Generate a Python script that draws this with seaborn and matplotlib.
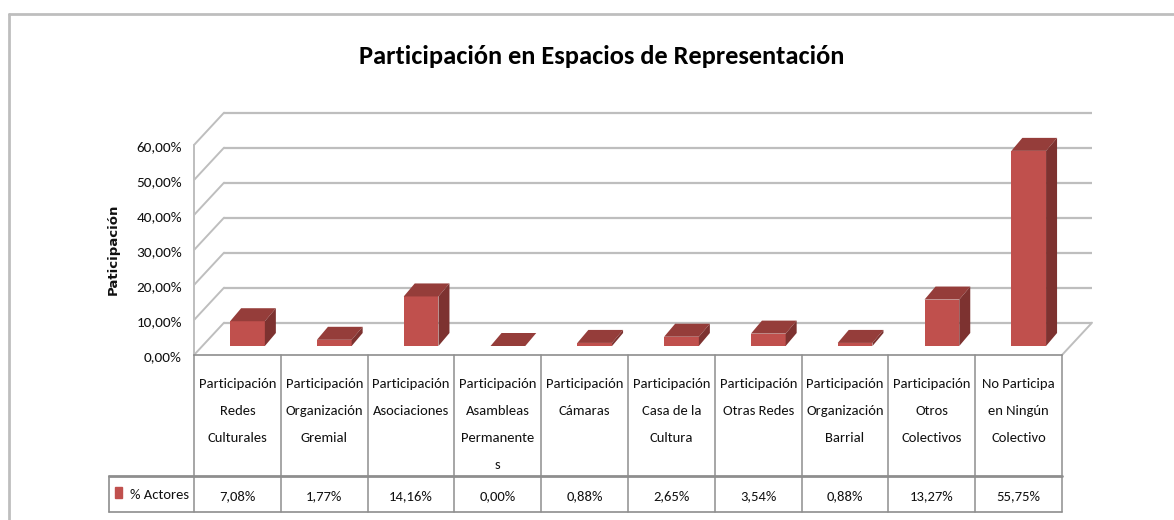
import pandas as pd
import seaborn as sns
import matplotlib.pyplot as plt
from matplotlib.patches import Polygon, Rectangle

# Datos del gráfico
titulo = 'Participación en Espacios de Representación'
titulo_eje_y = 'Paticipación'
serie = '% Actores'
categorias = ['Participación\nRedes\nCulturales',
              'Participación\nOrganización\nGremial',
              'Participación\nAsociaciones',
              'Participación\nAsambleas\nPermanente\ns',
              'Participación\nCámaras',
              'Participación\nCasa de la\nCultura',
              'Participación\nOtras Redes',
              'Participación\nOrganización\nBarrial',
              'Participación\nOtros\nColectivos',
              'No Participa\nen Ningún\nColectivo']
valores = [7.08, 1.77, 14.16, 0.00, 0.88, 2.65, 3.54, 0.88, 13.27, 55.75]
ticks_y = [0, 10, 20, 30, 40, 50, 60]

df = pd.DataFrame({'espacio': categorias, 'actores': valores})

# Colores (estilo Excel)
ROJO = '#C0504D'
ROJO_TOP = '#953D3A'
ROJO_LADO = '#7D3230'
GRIS = '#BEBEBE'
GRIS_TABLA = '#8E8E8E'
TEXTO = '#111111'

sns.set_theme(style='white')
plt.rcParams['font.family'] = ['Carlito', 'DejaVu Sans']


# conversion pixels de l'image -> coordonnées des données
def px(xp):
    return (xp - 247.5) / 86.8


def py(yp):
    return (346 - yp) / 3.5


fig = plt.figure(figsize=(11.74, 5.2), dpi=100)
ax = fig.add_axes([0, 0, 1, 1])

sns.barplot(data=df, x='espacio', y='actores', color=ROJO, width=0.4,
            saturation=1, ax=ax, zorder=4, linewidth=0)

ax.set_xlim(px(0), px(1174))
ax.set_ylim(py(520), py(0))
ax.axis('off')

# profondeur 3D
x_gauche = px(194)
x_droite = px(1062)
prof_x = px(224) - px(194)
prof_y = py(322.7) - py(355)
front_y = py(355)
dx_barre = 11 / 86.8
dy_barre = 13 / 3.5

# mur du fond + mur gauche
for t in ticks_y:
    yb = front_y + prof_y + t * 1.0
    yf = front_y + t * 1.0
    ax.plot([x_gauche + prof_x, x_droite + prof_x], [yb, yb], color=GRIS, lw=1.6, zorder=1,
            solid_capstyle='butt')
    ax.plot([x_gauche, x_gauche + prof_x], [yf, yb], color=GRIS, lw=1.4, zorder=1)
    ax.text(px(182), yf - 0.6, f'{t:.2f}'.replace('.', ',') + '%', ha='right', va='center',
            fontsize=11, color=TEXTO)
ax.plot([x_gauche, x_gauche], [front_y, front_y + ticks_y[-1]], color=GRIS, lw=1.4, zorder=1)
# sol
ax.plot([x_droite, x_droite + prof_x], [front_y, front_y + prof_y], color=GRIS, lw=1.4, zorder=1)

# faces 3D des barres
for p in ax.patches[:len(valores)]:
    x0 = p.get_x()
    w = p.get_width()
    h = p.get_height()
    y0 = p.get_y()
    top = Polygon([(x0, y0 + h), (x0 + w, y0 + h), (x0 + w + dx_barre, y0 + h + dy_barre),
                   (x0 + dx_barre, y0 + h + dy_barre)], closed=True, color=ROJO_TOP, zorder=4, lw=0)
    lado = Polygon([(x0 + w, y0), (x0 + w, y0 + h), (x0 + w + dx_barre, y0 + h + dy_barre),
                    (x0 + w + dx_barre, y0 + dy_barre)], closed=True, color=ROJO_LADO, zorder=4, lw=0)
    ax.add_patch(top)
    ax.add_patch(lado)

# tableau de données
n = len(categorias)
ancho = (x_droite - x_gauche) / n
y_fila = py(476)
y_fin = py(512)
ax.plot([x_gauche, x_droite], [front_y, front_y], color=GRIS_TABLA, lw=1.2, zorder=2)
for i in range(n + 1):
    xb = x_gauche + i * ancho
    ax.plot([xb, xb], [front_y, y_fin], color=GRIS_TABLA, lw=1.1, zorder=2)
ax.plot([px(109), x_droite], [y_fila, y_fila], color=GRIS_TABLA, lw=2.0, zorder=2)
ax.plot([px(109), x_droite], [y_fin, y_fin], color=GRIS_TABLA, lw=1.2, zorder=2)
ax.plot([px(109), px(109)], [y_fila, y_fin], color=GRIS_TABLA, lw=1.2, zorder=2)

for i, (cat, val) in enumerate(zip(categorias, valores)):
    xc = x_gauche + (i + 0.5) * ancho
    for j, linea in enumerate(cat.split('\n')):
        ax.text(xc, py(384 + 27 * j), linea, ha='center', va='center', fontsize=10.5,
                color=TEXTO)
    ax.text(xc, py(496), f'{val:.2f}'.replace('.', ',') + '%', ha='center', va='center',
            fontsize=10.5, color=TEXTO)

# légende de la série
ax.add_patch(Rectangle((px(115), py(498)), px(122) - px(115), py(487) - py(498),
                       color=ROJO, zorder=3))
ax.text(px(130), py(495), serie, ha='left', va='center', fontsize=10.5, color=TEXTO)

# titre de l'axe Y
ax.text(px(113), py(249), titulo_eje_y, rotation=90, ha='center', va='center', fontsize=9.5,
        fontweight='bold', family=['DejaVu Sans'], color='#111111')

# titre
fig.text(602 / 1174, 1 - 57 / 520, titulo, ha='center', va='center', fontsize=19,
         fontweight='bold', color='#000000')

# cadre du graphique
ax.plot([px(9), px(9)], [py(14), py(520)], color=GRIS, lw=2, zorder=1, clip_on=False)
ax.plot([px(9), px(1174)], [py(14), py(14)], color=GRIS, lw=2, zorder=1, clip_on=False)

fig.savefig('out.png', dpi=100, facecolor='white')
